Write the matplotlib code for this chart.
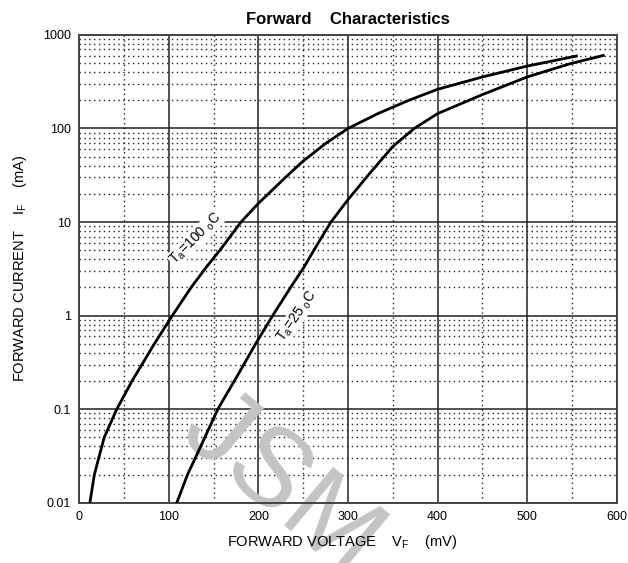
import matplotlib.pyplot as plt

plt.rcParams['font.family'] = ['Liberation Sans', 'DejaVu Sans']
plt.rcParams['mathtext.fontset'] = 'custom'
plt.rcParams['mathtext.rm'] = 'Liberation Sans'

# Curve readings (forward voltage in mV, forward current in mA)
vf_100 = [12, 17, 28, 42, 59, 84, 104, 125, 142, 158.5, 180.7, 200, 227, 249, 275, 300,
          334, 368, 400, 450, 500, 555]
if_100 = [0.01, 0.02, 0.05, 0.1, 0.2, 0.5, 1, 2, 3.3, 5.2, 10, 15.8, 28, 44, 69, 100,
          145, 200, 262, 355, 464, 594]

vf_25 = [109, 121, 131, 154.8, 178, 197, 216, 236, 251, 262, 281, 300, 323, 350, 374,
         400, 450, 500, 548, 585]
if_25 = [0.01, 0.02, 0.032, 0.1, 0.24, 0.5, 1, 2, 3.3, 5.0, 10, 17.3, 32, 64, 100,
         144, 230, 355, 492, 603]

x_ticks = [0, 100, 200, 300, 400, 500, 600]
y_ticks = [0.01, 0.1, 1, 10, 100, 1000]
y_tick_labels = ['0.01', '0.1', '1', '10', '100', '1000']

fig = plt.figure(figsize=(6.28, 5.63), dpi=100)
ax = fig.add_axes([0.126, 0.107, 0.856, 0.831])

ax.set_yscale('log')
ax.set_xlim(0, 600)
ax.set_ylim(0.01, 1000)

ax.set_xticks(x_ticks)
ax.set_xticks([50, 150, 250, 350, 450, 550], minor=True)
ax.set_yticks(y_ticks)
ax.set_yticklabels(y_tick_labels)
ax.yaxis.set_minor_locator(plt.LogLocator(base=10, subs=range(2, 10)))
ax.yaxis.set_minor_formatter(plt.NullFormatter())

ax.tick_params(which='both', length=0, labelsize=9, pad=6)
ax.grid(True, which='major', color='#222222', linewidth=1.1, linestyle='-')
ax.grid(True, which='minor', color='#222222', linewidth=1.0, linestyle=(0, (1, 2.5)))
ax.set_axisbelow(True)

for s in ax.spines.values():
    s.set_linewidth(1.4)
    s.set_color('#444444')

# watermark
ax.text(0.375, 0.035, 'JSM', transform=ax.transAxes, fontsize=80, color='#c4c4c4',
        rotation=-40, ha='center', va='center', clip_on=False, zorder=1.5)

ax.plot(vf_100, if_100, color='black', linewidth=2.0, zorder=3)
ax.plot(vf_25, if_25, color='black', linewidth=2.0, zorder=3)

box = dict(facecolor='white', edgecolor='none', pad=0.5)
ax.text(130, 6.7, r'T$_{\rm a}$=100 $_{\rm o}$C', fontsize=10, rotation=45,
        ha='center', va='center', bbox=box, zorder=4)
ax.text(243, 1.0, r'T$_{\rm a}$=25 $_{\rm o}$C', fontsize=10, rotation=55,
        ha='center', va='center', bbox=box, zorder=4)

ax.set_title('Forward    Characteristics', fontsize=12, fontweight='bold', pad=8)
fig.text(0.545, 1 - 542 / 563, r'FORWARD VOLTAGE    V$_{\rm F}$    (mV)', fontsize=10.5,
         ha='center', va='center', zorder=5)
ax.set_ylabel(r'FORWARD CURRENT    I$_{\rm F}$    (mA)', fontsize=10.5, labelpad=10)

fig.savefig('out.png', dpi=100)
